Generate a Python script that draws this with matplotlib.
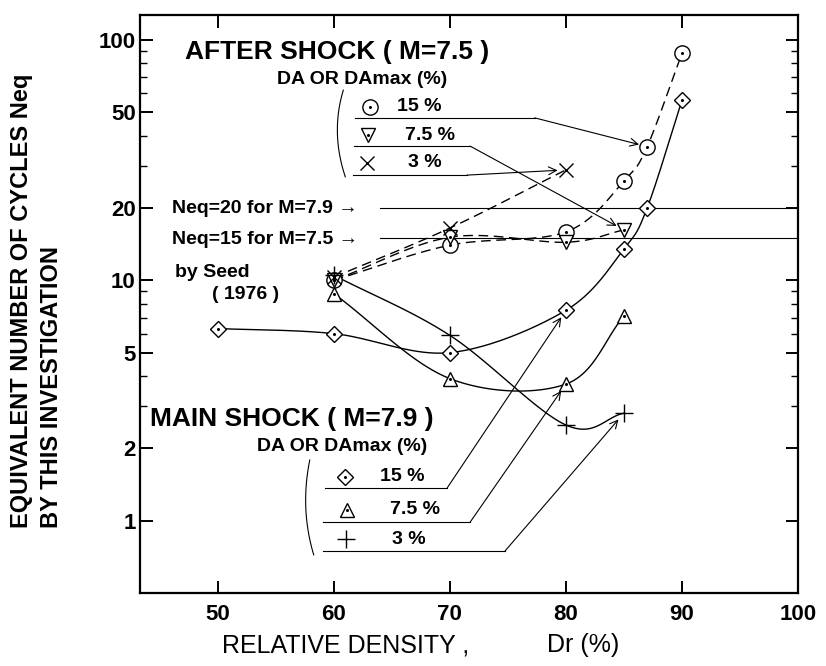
import numpy as np
import matplotlib.pyplot as plt

plt.rcParams['font.family'] = ['Liberation Sans', 'DejaVu Sans']

# relative density Dr (%) and equivalent number of cycles Neq
after_dr_15 = [60, 70, 80, 85, 87, 90]
after_neq_15 = [10, 14, 15.9, 25.9, 36, 88]
after_dr_75 = [60, 70, 80, 85]
after_neq_75 = [10, 15.1, 14.4, 16.2]
after_dr_3 = [60, 70, 80]
after_neq_3 = [10.3, 16.5, 28.8]

main_dr_15 = [50, 60, 70, 80, 85, 87, 90]
main_neq_15 = [6.3, 6.0, 5.0, 7.5, 13.5, 20, 56]
main_dr_75 = [60, 70, 80, 85]
main_neq_75 = [8.8, 3.9, 3.7, 7.1]
main_dr_3 = [60, 70, 80, 85]
main_neq_3 = [10.5, 5.9, 2.5, 2.8]

seed_neq = [20, 15]
seed_labels = ['Neq=20 for M=7.9 \u2192', 'Neq=15 for M=7.5 \u2192']
x_ticks = [50, 60, 70, 80, 90, 100]
y_ticks = [1, 2, 5, 10, 20, 50, 100]
y_minor = [3, 4, 6, 7, 8, 9, 30, 40, 60, 70, 80, 90]


def smooth(xs, ys, n=40):
    # Catmull-Rom curve through the points, in (x, log y)
    x = np.asarray(xs, float)
    y = np.log10(ys)
    px = np.concatenate([[2 * x[0] - x[1]], x, [2 * x[-1] - x[-2]]])
    py = np.concatenate([[2 * y[0] - y[1]], y, [2 * y[-1] - y[-2]]])
    t = np.linspace(0, 1, n)
    out_x, out_y = [], []
    for i in range(1, len(px) - 2):
        for p, out in ((px, out_x), (py, out_y)):
            p0, p1, p2, p3 = p[i - 1:i + 3]
            seg = 0.5 * (2 * p1 + (p2 - p0) * t
                         + (2 * p0 - 5 * p1 + 4 * p2 - p3) * t ** 2
                         + (3 * p1 - p0 - 3 * p2 + p3) * t ** 3)
            out.append(seg)
    return np.concatenate(out_x), 10 ** np.concatenate(out_y)


fig = plt.figure(figsize=(8.26, 6.66), dpi=100)
ax = fig.add_axes([140 / 826, 73 / 666, 658 / 826, 578 / 666])
ax.set_yscale('log')
ax.set_xlim(43.3, 100)
ax.set_ylim(0.5, 127)

# Seed (1976) reference levels
for v in seed_neq:
    ax.plot([64, 100], [v, v], color='k', lw=0.8, zorder=1)

marker_kw = dict(color='k', mfc='white', mec='k', mew=1.0, ls='none', zorder=4)
dot_kw = dict(color='k', marker='o', ms=1.2, ls='none', zorder=5)

series = [
    (after_dr_15, after_neq_15, 'o', 11, '--'),
    (after_dr_75, after_neq_75, 'v', 10, '--'),
    (after_dr_3, after_neq_3, 'x', 10, '--'),
    (main_dr_15, main_neq_15, 'D', 8.5, '-'),
    (main_dr_75, main_neq_75, '^', 10, '-'),
    (main_dr_3, main_neq_3, '+', 13, '-'),
]
for xs, ys, mk, ms, ls in series:
    cx, cy = smooth(xs, ys)
    line, = ax.plot(cx, cy, color='k', lw=1.0, ls=ls, zorder=2)
    if ls == '--':
        line.set_dashes((7, 4))
    ax.plot(xs, ys, marker=mk, ms=ms, **marker_kw)
    if mk not in ('x', '+'):
        ax.plot(xs, ys, **dot_kw)

# legends with leader arrows
title_kw = dict(transform=ax.transAxes, fontsize=19, fontweight='bold', va='center')
sub_kw = dict(transform=ax.transAxes, fontsize=14, fontweight='bold', va='center')

ax.text(0.068, 0.936, 'AFTER SHOCK ( M=7.5 )', **title_kw)
ax.text(0.208, 0.888, 'DA OR DAmax (%)', **sub_kw)
ax.text(0.015, 0.301, 'MAIN SHOCK ( M=7.9 )', **title_kw)
ax.text(0.178, 0.253, 'DA OR DAmax (%)', **sub_kw)

legend_rows = [
    # marker, size, label, marker pos, text x, underline (x0, x1, y), target
    ('o', 11, '15 %', (0.350, 0.841), 0.391, (0.327, 0.600, 0.822), (after_dr_15[4], after_neq_15[4])),
    ('v', 10, '7.5 %', (0.347, 0.792), 0.403, (0.325, 0.502, 0.773), (after_dr_75[3], after_neq_75[3])),
    ('x', 10, '3 %', (0.345, 0.744), 0.407, (0.324, 0.497, 0.723), (after_dr_3[2], after_neq_3[2])),
    ('D', 8.5, '15 %', (0.312, 0.201), 0.365, (0.281, 0.467, 0.182), (main_dr_15[3], main_neq_15[3])),
    ('^', 10, '7.5 %', (0.315, 0.144), 0.380, (0.278, 0.502, 0.123), (main_dr_75[2], main_neq_75[2])),
    ('+', 13, '3 %', (0.313, 0.093), 0.383, (0.278, 0.555, 0.073), (main_dr_3[3], main_neq_3[3])),
]
for mk, ms, label, (mx, my), tx, (u0, u1, uy), target in legend_rows:
    ax.plot([mx], [my], marker=mk, ms=ms, transform=ax.transAxes, **marker_kw)
    if mk not in ('x', '+'):
        ax.plot([mx], [my], transform=ax.transAxes, **dot_kw)
    ax.text(tx, my, label, **sub_kw)
    ax.plot([u0, u1], [uy, uy], color='k', lw=0.8, transform=ax.transAxes)
    ax.annotate('', xy=target, xycoords='data', xytext=(u1, uy),
                textcoords='axes fraction',
                arrowprops=dict(arrowstyle='->', lw=0.8, color='k',
                                shrinkA=0, shrinkB=6, mutation_scale=14))

# brackets grouping the legend rows
for pts in ([(0.309, 0.870), (0.300, 0.796), (0.312, 0.720)],
            [(0.258, 0.230), (0.252, 0.147), (0.264, 0.066)]):
    (x0, y0), (x1, y1), (x2, y2) = pts
    t = np.linspace(0, 1, 30)
    bx = (1 - t) ** 2 * x0 + 2 * t * (1 - t) * (2 * x1 - (x0 + x2) / 2) + t ** 2 * x2
    by = (1 - t) ** 2 * y0 + 2 * t * (1 - t) * (2 * y1 - (y0 + y2) / 2) + t ** 2 * y2
    ax.plot(bx, by, color='k', lw=0.8, transform=ax.transAxes)

note_kw = dict(transform=ax.transAxes, fontsize=14, fontweight='bold', va='center')
ax.text(0.049, 0.666, seed_labels[0], **note_kw)
ax.text(0.049, 0.612, seed_labels[1], **note_kw)
ax.text(0.053, 0.555, 'by Seed', **note_kw)
ax.text(0.109, 0.516, '( 1976 )', **note_kw)

# axes and ticks
for s in ax.spines.values():
    s.set_linewidth(1.6)
ax.set_xticks(x_ticks)
ax.set_xticklabels([str(v) for v in x_ticks], fontsize=16, fontweight='bold')
ax.set_yticks(y_ticks)
ax.set_yticklabels([str(v) for v in y_ticks], fontsize=16, fontweight='bold')
ax.set_yticks(y_minor, minor=True)
ax.set_yticklabels([], minor=True)
ax.tick_params(which='both', direction='in', top=True, right=True, color='k')
ax.tick_params(which='major', length=9, width=1.4)
ax.tick_params(which='minor', length=5, width=1.0)
ax.tick_params(axis='x', pad=8)
ax.tick_params(axis='y', pad=3)

fig.text(22 / 826, 1 - 528 / 666, 'EQUIVALENT NUMBER OF CYCLES Neq', rotation=90,
         ha='center', va='bottom', fontsize=17, fontweight='bold')
fig.text(52 / 826, 1 - 528 / 666, 'BY THIS INVESTIGATION', rotation=90,
         ha='center', va='bottom', fontsize=17, fontweight='bold')
fig.text(222 / 826, 1 - 645 / 666, 'RELATIVE DENSITY ,',
         ha='left', va='center', fontsize=18)
fig.text(619 / 826, 1 - 645 / 666, 'Dr (%)',
         ha='right', va='center', fontsize=18)

fig.savefig('out.png', dpi=100)
